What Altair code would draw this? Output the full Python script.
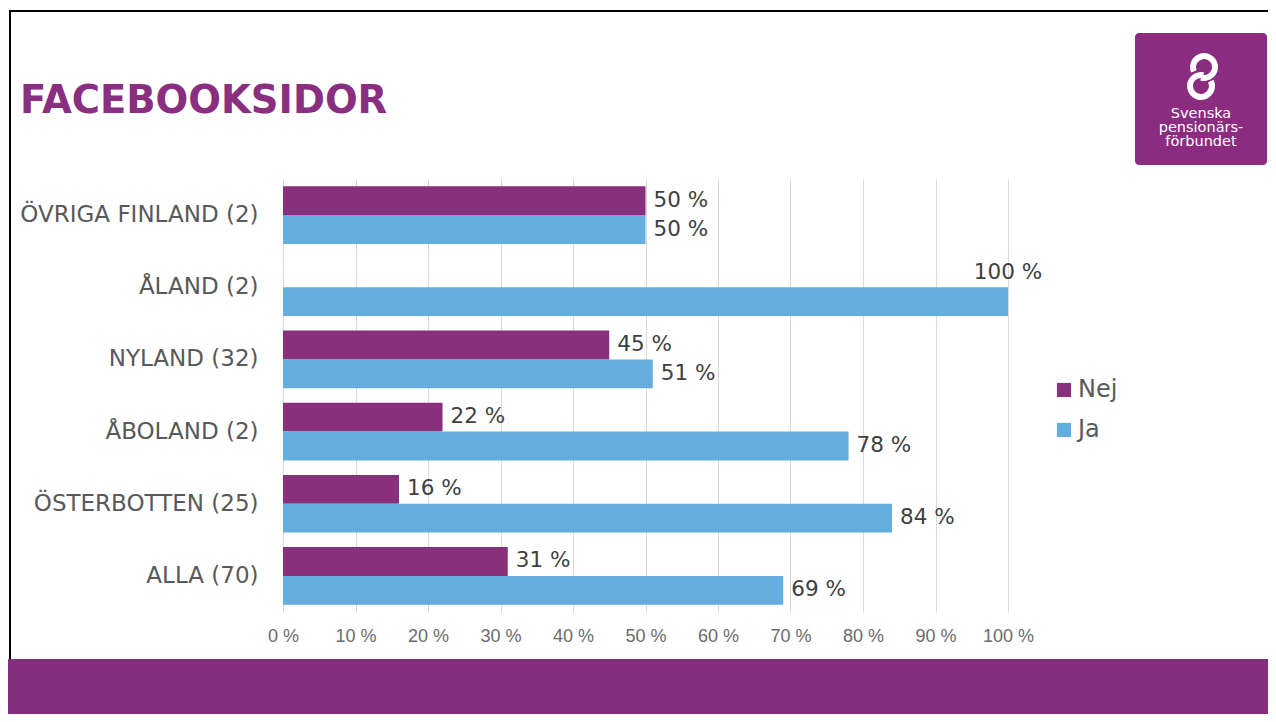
import altair as alt
import pandas as pd

# ---------------- data ----------------
regions = ["ÖVRIGA FINLAND (2)", "ÅLAND (2)", "NYLAND (32)", "ÅBOLAND (2)",
           "ÖSTERBOTTEN (25)", "ALLA (70)"]
nej = [50, 0, 45, 22, 16, 31]
ja = [50, 100, 51, 78, 84, 69]
series = ["Nej", "Ja"]
colors = ["#88307C", "#63AEDF"]
ticks = [0, 10, 20, 30, 40, 50, 60, 70, 80, 90, 100]
title_text = "FACEBOOKSIDOR"
logo_lines = ["Svenska", "pensionärs-", "förbundet"]

rows = []
for r, n, j in zip(regions, nej, ja):
    rows.append({"region": r, "series": "Nej", "value": n})
    rows.append({"region": r, "series": "Ja", "value": j})
df = pd.DataFrame(rows)

lab = df[df["value"] > 0].copy()
lab["text"] = lab["value"].astype(str) + " %"
side = lab[lab["value"] < 100].copy()
top = lab[lab["value"] >= 100].copy()
top["slot"] = "Nej"

FONT = "DejaVu Sans"
TXT = "#595959"

one = pd.DataFrame({"a": [0]})

y = alt.Y("region:N", sort=regions,
          scale=alt.Scale(domain=regions, paddingInner=0.2, paddingOuter=0.1),
          axis=alt.Axis(title=None, domain=False, ticks=False, labelFontSize=23,
                        labelColor=TXT, labelFont=FONT, labelPadding=25, labelLimit=500))
x = alt.X("value:Q", scale=alt.Scale(domain=[0, 100]),
          axis=alt.Axis(title=None, values=ticks, labelExpr="datum.value + ' %'",
                        domain=False, ticks=False, grid=True, gridColor="#D9D9D9",
                        labelFontSize=18, labelColor="#6B6B6B", labelFlush=False,
                        labelFont="Liberation Sans Narrow, Liberation Sans, Arial",
                        labelPadding=15))
yoff = alt.YOffset("series:N",
                   scale=alt.Scale(domain=series, paddingInner=0, paddingOuter=0))

bars = alt.Chart(df).mark_bar().encode(
    x=x, y=y, yOffset=yoff,
    color=alt.Color("series:N",
                    scale=alt.Scale(domain=series, range=colors),
                    legend=alt.Legend(title=None, orient="none", legendX=769, legendY=199,
                                      symbolType="square", symbolSize=200,
                                      symbolStrokeWidth=0, labelFontSize=24,
                                      labelFont=FONT, labelColor=TXT, rowPadding=16,
                                      padding=0, labelOffset=2)),
)

side_text = alt.Chart(side).mark_text(
    align="left", baseline="middle", dx=8, fontSize=21.5, font=FONT, color="#404040"
).encode(x="value:Q", y=alt.Y("region:N"),
         yOffset=alt.YOffset("series:N"), text="text:N")

top_text = alt.Chart(top).mark_text(
    align="center", baseline="middle", fontSize=21.5, font=FONT, color="#404040"
).encode(x="value:Q", y=alt.Y("region:N"),
         yOffset=alt.YOffset("slot:N"), text="text:N")

# ---------------- slide decorations ----------------
title = alt.Chart(one).mark_text(
    text=title_text, align="left", baseline="alphabetic", fontSize=38.5,
    fontWeight="bold", font=FONT, color="#8A2E80"
).encode(x=alt.value(-263), y=alt.value(-66))

band = alt.Chart(one).mark_rect(color="#852F7C").encode(
    x=alt.value(-275), x2=alt.value(985), y=alt.value(480), y2=alt.value(535))

left_border = alt.Chart(one).mark_rule(color="black", strokeWidth=2).encode(
    x=alt.value(-273), y=alt.value(-168), y2=alt.value(480))
top_border = alt.Chart(one).mark_rule(color="black", strokeWidth=2).encode(
    y=alt.value(-168), x=alt.value(-274), x2=alt.value(985))

logo_box = alt.Chart(one).mark_rect(color="#8B2C80", cornerRadius=4).encode(
    x=alt.value(852), x2=alt.value(984), y=alt.value(-146), y2=alt.value(-14))
logo_txt = alt.Chart(one).mark_text(
    text=logo_lines, align="center", baseline="top", fontSize=14.5, lineHeight=14,
    font=FONT, color="white"
).encode(x=alt.value(918), y=alt.value(-72))
ring1 = alt.Chart(one).mark_arc(theta=4.3, theta2=9.7, radius=14, radius2=8,
                                color="white").encode(x=alt.value(921), y=alt.value(-112))
ring2 = alt.Chart(one).mark_arc(theta=1.1, theta2=6.5, radius=14, radius2=8,
                                color="white").encode(x=alt.value(918), y=alt.value(-93))

chart = alt.layer(
    band, left_border, top_border, title, logo_box, logo_txt, ring1, ring2,
    bars, side_text, top_text
).properties(
    width=725, height=433,
    autosize=alt.AutoSizeParams(type="none"),
    padding={"left": 275, "top": 171, "right": 260, "bottom": 102},
    background="white",
).configure_view(stroke=None)

chart.save("out.html", embed_options={"renderer": "svg", "actions": False})
